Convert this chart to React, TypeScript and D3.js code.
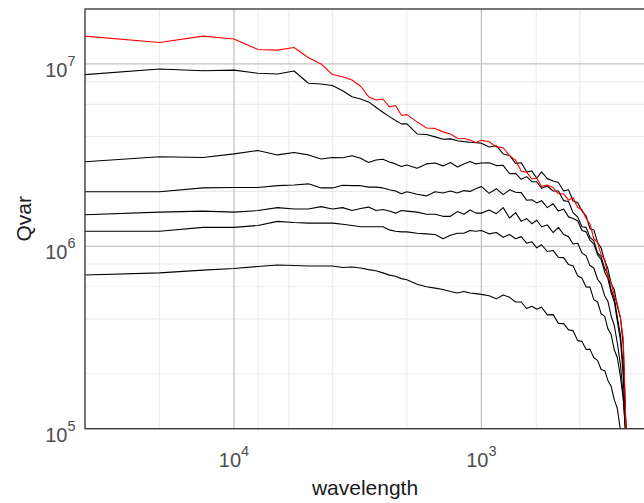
import React from "react";
import * as d3 from "d3";

// wavelength of each harmonic (x axis, reversed log scale)
const wavelength = [
  40000, 20000, 13333, 10000, 8000, 6667, 5714, 5000, 4444, 4000,
  3636, 3333, 3077, 2857, 2667, 2500, 2353, 2222, 2105, 2000,
  1818, 1667, 1538, 1429, 1333, 1250, 1176, 1111, 1053, 1000,
  930, 870, 816, 769, 727, 690, 656, 625, 597, 571,
  541, 513, 488, 465, 444, 426, 408, 392, 377, 364, 351, 339,
  328, 317, 308, 299, 290, 282, 274, 267, 260, 253, 247,
];

// Qvar values, in millions
const qvarRed = [
  14.2, 13.1, 14.2, 13.7, 12.0, 11.9, 12.3, 10.8, 10.0, 8.75,
  8.5, 8.16, 7.54, 6.61, 6.34, 6.42, 5.81, 5.92, 5.23, 5.27,
  4.81, 4.45, 4.43, 4.24, 4.13, 3.91, 3.9, 3.83, 3.71, 3.81,
  3.74, 3.51, 3.47, 3.14, 2.97, 2.58, 2.55, 2.34, 2.37, 2.13,
  2.17, 2.1, 1.94, 1.94, 1.79, 1.85, 1.63, 1.59, 1.42, 1.33, 1.1, 1.05,
  0.9, 0.845, 0.684, 0.634, 0.536, 0.485, 0.402, 0.315, 0.098, 0.052, 0.032,
];
const qvar1 = [
  8.73, 9.38, 9.17, 9.25, 8.88, 8.81, 9.14, 7.83, 7.76, 7.62,
  7.13, 6.61, 6.42, 6.19, 5.79, 5.43, 5.14, 4.89, 4.69, 4.69,
  4.13, 4.1, 3.98, 3.86, 3.88, 3.79, 3.75, 3.72, 3.7, 3.67,
  3.5, 3.56, 3.21, 3.15, 2.85, 2.87, 2.56, 2.59, 2.36, 2.56,
  2.35, 2.28, 2.24, 2.01, 2.04, 1.77, 1.74, 1.56, 1.47, 1.25, 1.23, 1.05,
  0.98, 0.83, 0.755, 0.626, 0.577, 0.468, 0.408, 0.29, 0.098, 0.052, 0.032,
];
const qvar2 = [
  2.91, 3.1, 3.07, 3.21, 3.35, 3.17, 3.27, 3.17, 3.01, 3.07,
  3.06, 3.14, 3.04, 2.88, 2.97, 3.0, 2.9, 2.83, 2.74, 2.79,
  2.68, 2.83, 2.86, 2.76, 2.88, 2.72, 2.83, 2.92, 2.83, 2.86,
  2.87, 2.77, 2.78, 2.5, 2.51, 2.33, 2.41, 2.26, 2.26, 2.08,
  2.14, 2.01, 2.01, 1.78, 1.76, 1.53, 1.45, 1.28, 1.27, 1.12, 1.07, 0.92,
  0.877, 0.755, 0.7, 0.578, 0.52, 0.407, 0.326, 0.22, 0.098, 0.052, 0.032,
];
const qvar3 = [
  1.99, 1.99, 2.09, 2.1, 2.1, 2.15, 2.17, 2.2, 2.09, 2.09,
  2.16, 2.15, 2.15, 2.11, 2.11, 2.09, 2.04, 2.01, 1.94, 1.99,
  1.93, 1.89, 1.99, 1.96, 2.01, 1.96, 2.02, 2.0, 2.07, 2.13,
  1.95, 2.07, 1.92, 2.04, 1.98, 1.97, 1.79, 1.8, 1.73, 1.78,
  1.63, 1.71, 1.56, 1.6, 1.45, 1.42, 1.38, 1.22, 1.2, 1.08, 1.03, 0.9,
  0.847, 0.718, 0.668, 0.559, 0.495, 0.387, 0.306, 0.196, 0.087, 0.05, 0.03,
];
const qvar4 = [
  1.49, 1.54, 1.56, 1.54, 1.57, 1.63, 1.6, 1.6, 1.65, 1.6,
  1.63, 1.57, 1.61, 1.64, 1.57, 1.59, 1.56, 1.52, 1.57, 1.56,
  1.54, 1.5, 1.5, 1.46, 1.46, 1.55, 1.5, 1.58, 1.52, 1.52,
  1.58, 1.51, 1.63, 1.43, 1.53, 1.37, 1.42, 1.33, 1.39, 1.28,
  1.31, 1.19, 1.27, 1.16, 1.13, 1.03, 1.04, 0.92, 0.886, 0.784, 0.76, 0.66,
  0.623, 0.534, 0.5, 0.417, 0.367, 0.294, 0.224, 0.153, 0.087, 0.05, 0.03,
];
const qvar5 = [
  1.21, 1.21, 1.27, 1.27, 1.3, 1.37, 1.35, 1.34, 1.34, 1.34,
  1.32, 1.3, 1.28, 1.28, 1.28, 1.28, 1.23, 1.21, 1.2, 1.2,
  1.18, 1.17, 1.16, 1.1, 1.15, 1.18, 1.18, 1.22, 1.21, 1.22,
  1.17, 1.19, 1.12, 1.16, 1.1, 1.13, 1.04, 1.06, 0.98, 1.02,
  0.936, 0.949, 0.868, 0.867, 0.794, 0.783, 0.689, 0.668, 0.598, 0.597, 0.51, 0.495,
  0.427, 0.413, 0.353, 0.33, 0.27, 0.245, 0.193, 0.145, 0.087, 0.05, 0.03,
];
const qvar6 = [
  0.696, 0.715, 0.74, 0.755, 0.775, 0.79, 0.785, 0.78, 0.78, 0.78,
  0.765, 0.77, 0.76, 0.745, 0.735, 0.715, 0.695, 0.685, 0.665, 0.655,
  0.62, 0.6, 0.59, 0.58, 0.565, 0.555, 0.565, 0.555, 0.55, 0.545,
  0.536, 0.515, 0.541, 0.525, 0.495, 0.495, 0.456, 0.469, 0.452, 0.464,
  0.421, 0.422, 0.378, 0.377, 0.348, 0.345, 0.304, 0.301, 0.272, 0.273, 0.245, 0.237,
  0.211, 0.208, 0.184, 0.171, 0.144, 0.129, 0.098, 0.06, 0.041, 0.03, 0.02,
];

const xMajor = [10000, 1000];
const xMinor = [40000, 20000, 8000, 6000, 4000, 2000, 600, 400];
const yMajor = [1e5, 1e6, 1e7];
const yMinor = [2e5, 4e5, 6e5, 8e5, 2e6, 4e6, 6e6, 8e6, 2e7];

const blackSeries = [qvar1, qvar2, qvar3, qvar4, qvar5, qvar6];

const font = "'Liberation Sans', Arial, sans-serif";

export default function App() {
  const W = 644;
  const H = 503;
  const left = 85;
  const right = 645;
  const top = 9;
  const bottom = 428.7;

  const x = d3.scaleLog().domain([40000, 218]).range([left, right]);
  const y = d3.scaleLog().domain([1e5, 2e7]).range([bottom, top]);

  const path = (vals: number[]) =>
    d3
      .line<number>()
      .x((_, i) => x(wavelength[i]))
      .y((d) => y(d * 1e6))(vals) || "";

  const exp = (v: number) => Math.round(Math.log10(v));

  return (
    <svg
      width={W}
      height={H}
      style={{ position: "absolute", left: 0, top: 0, background: "white" }}
      fontFamily={font}
    >
      <defs>
        <clipPath id="panel">
          <rect x={left} y={top} width={right - left} height={bottom - top} />
        </clipPath>
      </defs>

      {/* grid */}
      {xMinor.map((v) => (
        <line key={"xm" + v} x1={x(v)} x2={x(v)} y1={top} y2={bottom} stroke="#ebebeb" strokeWidth={1.1} />
      ))}
      {yMinor.map((v) => (
        <line key={"ym" + v} x1={left} x2={right} y1={y(v)} y2={y(v)} stroke="#ebebeb" strokeWidth={1.1} />
      ))}
      {xMajor.map((v) => (
        <line key={"xM" + v} x1={x(v)} x2={x(v)} y1={top} y2={bottom} stroke="#c4c4c4" strokeWidth={1.3} />
      ))}
      {yMajor.map((v) => (
        <line key={"yM" + v} x1={left} x2={right} y1={y(v)} y2={y(v)} stroke="#c4c4c4" strokeWidth={1.3} />
      ))}

      {/* series */}
      <g clipPath="url(#panel)" fill="none" strokeLinejoin="round">
        {blackSeries.map((s, i) => (
          <path key={i} d={path(s)} stroke="black" strokeWidth={1.1} />
        ))}
        <path d={path(qvarRed)} stroke="#ff0000" strokeWidth={1.1} />
      </g>

      {/* panel border */}
      <rect x={left} y={top} width={right - left} height={bottom - top} fill="none" stroke="#333333" strokeWidth={1.3} />

      {/* y tick labels */}
      {yMajor.map((v) => (
        <text key={"yl" + v} x={75.5} y={y(v) + 13} textAnchor="end" fill="#4d4d4d" fontSize={20}>
          10
          <tspan fontSize={14.5} dy={-11}>
            {exp(v)}
          </tspan>
        </text>
      ))}
      {/* x tick labels */}
      {xMajor.map((v) => (
        <text key={"xl" + v} x={x(v)} y={467} textAnchor="middle" fill="#4d4d4d" fontSize={20}>
          10
          <tspan fontSize={14.5} dy={-11}>
            {exp(v)}
          </tspan>
        </text>
      ))}

      {/* axis titles */}
      <text x={(left + right) / 2} y={495} textAnchor="middle" fontSize={21} fill="#1a1a1a">
        wavelength
      </text>
      <text
        transform={`translate(31, ${(top + bottom) / 2}) rotate(-90)`}
        textAnchor="middle"
        fontSize={21}
        fill="#1a1a1a"
      >
        Qvar
      </text>
    </svg>
  );
}
